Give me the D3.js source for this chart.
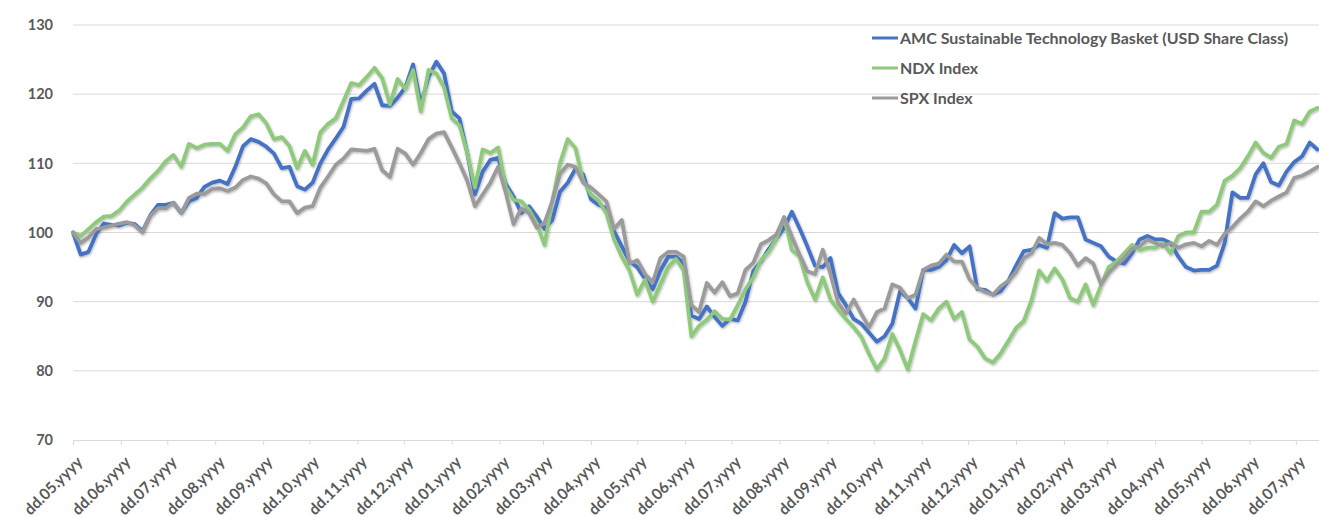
<!DOCTYPE html>
<html>
<head>
<meta charset="utf-8">
<script src="https://cdn.jsdelivr.net/npm/d3@7/dist/d3.min.js"></script>
<style>
  html, body { margin: 0; padding: 0; background: #fff; }
  svg { display: block; }
  text { font-family: Lato, "Open Sans", sans-serif; font-weight: 700; fill: #595959; }
</style>
</head>
<body>
<svg id="chart" width="1319" height="517"></svg>
<script>
// Rebased performance (start = 100), one observation every 5 calendar days
const seriesNames = [
  "AMC Sustainable Technology Basket (USD Share Class)",
  "NDX Index",
  "SPX Index"
];
const seriesColors = ["#4472C4", "#8FC97B", "#9B9B9B"];

const amc = [
  100, 96.8, 97.2, 99.8, 101.3, 101.1, 101.0, 101.4, 101.2, 100.2,
  102.5, 104.0, 104.0, 104.3, 102.8, 104.5, 105.0, 106.6, 107.2, 107.5,
  107.0, 109.5, 112.5, 113.5, 113.1, 112.4, 111.4, 109.3, 109.5, 106.7,
  106.2, 107.2, 110.0, 112.0, 113.6, 115.3, 119.3, 119.4, 120.5, 121.5,
  118.4, 118.3, 119.5, 121.0, 124.3, 118.5, 122.5, 124.7, 123.0, 117.5,
  116.5, 111.5, 105.5, 108.8, 110.5, 110.8, 107.0, 105.2, 102.8, 103.8,
  102.3, 100.5, 101.8, 105.9, 107.2, 109.2, 108.4, 104.8, 104.0, 103.5,
  100.2, 98.0, 95.8, 95.0, 93.3, 91.8, 94.5, 96.5, 96.5, 95.6,
  88.0, 87.5, 89.3, 87.8, 86.5, 87.5, 87.3, 90.0, 94.4, 95.8,
  97.6, 99.1, 100.7, 103.0, 100.6, 98.0, 95.2, 95.0, 96.3, 91.2,
  89.5, 87.5, 86.8, 85.5, 84.2, 85.0, 86.8, 91.5, 90.5, 89.0,
  94.6, 94.6, 95.0, 96.0, 98.2, 97.0, 98.0, 91.8, 91.7, 91.0,
  91.5, 93.0, 95.2, 97.3, 97.5, 98.2, 97.8, 102.8, 102.0, 102.2,
  102.2, 99.0, 98.5, 98.0, 96.5, 95.8, 95.5, 97.0, 99.0, 99.5,
  99.0, 99.0, 98.5, 96.5, 95.0, 94.5, 94.6, 94.6, 95.2, 98.5,
  105.8, 105.0, 105.0, 108.4, 110.0, 107.3, 106.8, 108.8, 110.2, 111.0,
  113.0, 112.0
];

const ndx = [
  100, 99.5, 100.5, 101.5, 102.3, 102.4, 103.2, 104.5, 105.5, 106.5,
  107.8, 108.9, 110.3, 111.2, 109.5, 112.8, 112.2, 112.7, 112.8, 112.8,
  111.8, 114.2, 115.2, 116.8, 117.1, 115.8, 113.5, 113.8, 112.5, 109.3,
  111.8, 109.8, 114.5, 115.7, 116.5, 119.0, 121.6, 121.3, 122.5, 123.8,
  122.3, 118.5, 122.2, 120.7, 123.5, 117.5, 123.5, 123.0, 121.0, 116.5,
  115.5, 111.5, 106.5, 112.0, 111.5, 112.3, 106.5, 104.7, 104.5, 103.3,
  101.3, 98.2, 104.5, 110.0, 113.5, 112.2, 107.5, 105.5, 104.6, 102.8,
  99.0, 96.5, 94.5, 91.0, 93.2, 90.0, 92.5, 95.0, 96.2, 94.5,
  85.0, 86.5, 87.4, 88.6, 87.5, 87.4, 89.5, 91.8, 93.5, 96.0,
  97.2, 99.1, 102.2, 97.5, 96.5, 92.8, 90.3, 93.5, 90.3, 88.8,
  87.5, 86.3, 84.9, 82.4, 80.2, 81.8, 85.3, 83.0, 80.2, 84.3,
  88.2, 87.3, 89.0, 90.0, 87.5, 88.5, 84.5, 83.5, 81.8, 81.2,
  82.5, 84.3, 86.2, 87.2, 90.2, 94.5, 93.0, 94.8, 93.2, 90.5,
  90.0, 92.5, 89.5, 92.4, 95.0, 95.8, 97.0, 98.2, 97.5, 97.8,
  97.8, 98.5, 97.0, 99.5, 100.0, 100.0, 103.0, 103.0, 104.0, 107.5,
  108.2, 109.3, 111.0, 113.0, 111.5, 110.8, 112.4, 112.8, 116.2, 115.7,
  117.5, 118.0
];

const spx = [
  100, 98.5, 99.3, 100.5, 100.7, 101.0, 101.3, 101.5, 101.0, 100.0,
  102.4, 103.5, 103.5, 104.3, 102.8, 105.0, 105.6, 105.6, 106.3, 106.4,
  106.0, 106.5, 107.6, 108.1, 107.8, 107.1, 105.5, 104.5, 104.5, 102.8,
  103.6, 103.8, 106.5, 108.1, 109.8, 110.7, 112.0, 111.9, 111.8, 112.1,
  109.0, 108.0, 112.1, 111.4, 109.8, 111.5, 113.5, 114.3, 114.5, 112.3,
  110.0, 107.5, 103.8, 105.5, 107.2, 109.5, 105.7, 101.2, 103.5, 102.8,
  100.7, 101.4, 104.5, 108.5, 109.8, 109.5, 107.2, 106.5, 105.5, 104.5,
  100.5, 101.8, 95.5, 96.0, 94.0, 92.8, 96.3, 97.2, 97.2, 96.5,
  89.5, 88.5, 92.7, 91.3, 92.8, 90.8, 91.2, 94.6, 95.6, 98.3,
  98.9, 99.7, 102.2, 99.4, 96.8, 94.4, 94.0, 97.5, 94.0, 89.8,
  88.3, 90.3, 88.2, 86.3, 88.5, 89.0, 92.5, 92.0, 90.5, 91.0,
  94.6, 95.2, 95.5, 96.8, 95.8, 95.8, 93.2, 92.0, 91.4, 91.0,
  92.2, 93.0, 94.3, 96.3, 97.0, 99.2, 98.3, 98.5, 98.2, 97.0,
  95.2, 96.3, 95.5, 92.5, 94.2, 95.3, 96.3, 97.6, 98.0, 99.0,
  98.5, 98.0, 98.5, 97.8, 98.3, 98.5, 98.0, 98.8, 98.2, 99.8,
  100.8, 102.0, 103.0, 104.5, 103.8, 104.6, 105.2, 105.8, 107.9, 108.2,
  108.8, 109.5
];

const xTickLabels = [
  "dd.05.yyyy", "dd.06.yyyy", "dd.07.yyyy", "dd.08.yyyy", "dd.09.yyyy",
  "dd.10.yyyy", "dd.11.yyyy", "dd.12.yyyy", "dd.01.yyyy", "dd.02.yyyy",
  "dd.03.yyyy", "dd.04.yyyy", "dd.05.yyyy", "dd.06.yyyy", "dd.07.yyyy",
  "dd.08.yyyy", "dd.09.yyyy", "dd.10.yyyy", "dd.11.yyyy", "dd.12.yyyy",
  "dd.01.yyyy", "dd.02.yyyy", "dd.03.yyyy", "dd.04.yyyy", "dd.05.yyyy",
  "dd.06.yyyy", "dd.07.yyyy"
];
const yTicks = [70, 80, 90, 100, 110, 120, 130];

const startDate = new Date(2021, 4, 1);
const endDate = new Date(2023, 6, 16);
const stepDays = 5;

const svg = d3.select("#chart");
const W = 1319;

const x = d3.scaleTime().domain([startDate, endDate]).range([73, 1319]);
const y = d3.scaleLinear().domain([70, 130]).range([440, 25]);

// soft shadow under the lines
const defs = svg.append("defs");
const f = defs.append("filter").attr("id", "shadow")
  .attr("x", "-5%").attr("y", "-5%").attr("width", "110%").attr("height", "110%");
f.append("feDropShadow").attr("dx", 0.8).attr("dy", 1.2)
  .attr("stdDeviation", 0.9).attr("flood-color", "#000").attr("flood-opacity", 0.3);

// horizontal gridlines
svg.append("g").selectAll("line")
  .data(yTicks.filter(v => v > 70))
  .join("line")
  .attr("x1", 73).attr("x2", W)
  .attr("y1", d => y(d)).attr("y2", d => y(d))
  .attr("stroke", "#D9D9D9").attr("stroke-width", 1);

// y labels
svg.append("g").selectAll("text")
  .data(yTicks)
  .join("text")
  .attr("x", 53).attr("y", d => y(d))
  .attr("dy", "0.36em")
  .attr("text-anchor", "end")
  .style("font-size", "14.5px")
  .text(d => d);

// x axis with monthly ticks
const monthTicks = d3.timeMonth.range(startDate, new Date(2023, 6, 2));
const xAxis = d3.axisBottom(x)
  .tickValues(monthTicks)
  .tickSize(5)
  .tickFormat((d, i) => xTickLabels[i]);

const gx = svg.append("g").attr("transform", `translate(0,${y(70)})`).call(xAxis);
gx.select(".domain").attr("stroke", "#D9D9D9").attr("d", `M73,0.5H${W}`);
gx.selectAll(".tick line").attr("stroke", "#D9D9D9");
gx.selectAll(".tick text")
  .attr("fill", "#595959")
  .style("font-size", "15.5px")
  .style("font-family", "Lato, 'Open Sans', sans-serif")
  .style("font-weight", 700)
  .attr("text-anchor", "end")
  .attr("x", 0).attr("y", 0).attr("dy", 0)
  .attr("transform", "translate(10,23) rotate(-45)");

// series lines
const series = [amc, ndx, spx].map((vals, k) => ({
  name: seriesNames[k],
  color: seriesColors[k],
  points: vals.map((v, i) => ({ date: d3.timeDay.offset(startDate, i * stepDays), v }))
}));

const line = d3.line()
  .x(d => x(d.date))
  .y(d => y(d.v));

svg.append("g").attr("filter", "url(#shadow)")
  .selectAll("path")
  .data(series)
  .join("path")
  .attr("d", d => line(d.points))
  .attr("fill", "none")
  .attr("stroke", d => d.color)
  .attr("stroke-width", 3.8)
  .attr("stroke-linejoin", "round")
  .attr("stroke-linecap", "round");

// legend
const legend = svg.append("g");
const legendRows = [38, 68, 98];
series.forEach((s, k) => {
  const ly = legendRows[k];
  legend.append("line")
    .attr("x1", 872).attr("x2", 898)
    .attr("y1", ly).attr("y2", ly)
    .attr("stroke", s.color).attr("stroke-width", 3);
  legend.append("text")
    .attr("x", 900).attr("y", ly)
    .attr("dy", "0.36em")
    .style("font-size", "16px")
    .attr("fill", "#404040")
    .text(s.name);
});
</script>
</body>
</html>
